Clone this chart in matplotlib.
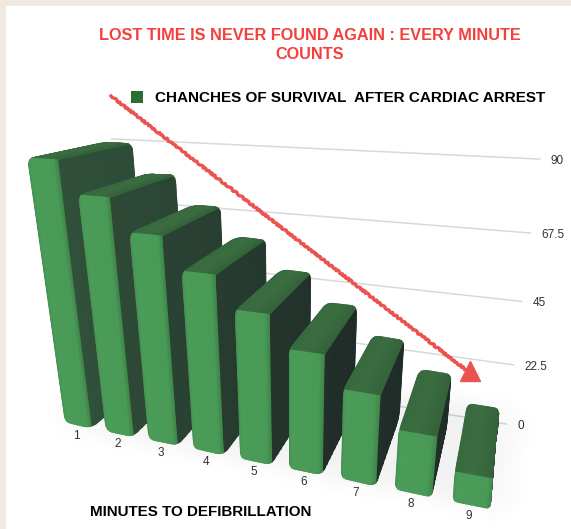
import numpy as np
import matplotlib
matplotlib.use('Agg')
import matplotlib.pyplot as plt
from matplotlib.path import Path
from matplotlib.patches import Patch, Rectangle
from matplotlib.colors import LinearSegmentedColormap, to_rgb

minutes = [1, 2, 3, 4, 5, 6, 7, 8, 9]
survival = [90, 80, 70, 60, 50, 40, 30, 20, 10]
ticks = [0, 22.5, 45, 67.5, 90]
tick_labels = ['0', '22.5', '45', '67.5', '90']
title = 'LOST TIME IS NEVER FOUND AGAIN : EVERY MINUTE\nCOUNTS'
series_name = 'CHANCHES OF SURVIVAL  AFTER CARDIAC ARREST'
xlabel = 'MINUTES TO DEFIBRILLATION'

W = 0.65    # bar width in category units
GAP = (1-W)/2
GRID_Y = 1.2

# camera: x = category position, y = depth, z = value -> pixels
P = np.array([
    [38.53,   84.32, -0.4589,  65.0],
    [-1.0885,  8.8,  -3.188,  423.0],
    [-0.02177, 0.16, -0.00154,  1.0]])

def proj(x, y, z):
    d = P[2,0]*x + P[2,1]*y + P[2,2]*z + P[2,3]
    return ((P[0,0]*x + P[0,1]*y + P[0,2]*z + P[0,3])/d,
            (P[1,0]*x + P[1,1]*y + P[1,2]*z + P[1,3])/d)

def rounded(pts, r):
    verts,codes = [],[]
    n = len(pts)
    for k in range(n):
        v = np.array(pts[k]); a = np.array(pts[k-1]); b = np.array(pts[(k+1)%n])
        ra = min(r/np.linalg.norm(a-v), .45); rb = min(r/np.linalg.norm(b-v), .45)
        verts += [v+(a-v)*ra, v, v+(b-v)*rb]
        codes += [Path.MOVETO if k==0 else Path.LINETO, Path.CURVE3, Path.CURVE3]
    verts.append(verts[0]); codes.append(Path.CLOSEPOLY)
    return Path(verts, codes)

front_cmap = LinearSegmentedColormap.from_list('front', [(0,'#458f51'),(.08,'#4c9c59'),(.88,'#4a9a57'),(1,'#3f8549')])
top_cmap = LinearSegmentedColormap.from_list('top', [(0,'#386a3f'),(.5,'#3c6d41'),(1,'#34633b')])

def side_cmap(i):
    c0 = np.array(to_rgb('#30503a')); c1 = np.array(to_rgb('#212e29'))
    c = c0 + (c1-c0)*min((i-1)/5, 1)
    return LinearSegmentedColormap.from_list('side%d'%i, [c, c*0.95])

def face(ax, x, y, z, cmap, clip):
    xx,yy = proj(x, y, z)
    u = np.linspace(0, 1, x.shape[1])[None,:].repeat(x.shape[0], 0)
    m = ax.pcolormesh(xx, yy, u, cmap=cmap, shading='gouraud', vmin=0, vmax=1, zorder=3)
    m.set_clip_path(clip, ax.transData)

plt.rcParams['font.family'] = ['Liberation Sans', 'DejaVu Sans']
fig = plt.figure(figsize=(5.71,5.29), dpi=100)
ax = fig.add_axes([0,0,1,1])
fig.patch.set_facecolor('#efe9df')
ax.add_patch(Rectangle((5.5,5.5), 570, 530, fc='white', ec='none', zorder=0))

# gridlines on the back wall
for t,lab in zip(ticks,tick_labels):
    xx,yy = proj(np.array([-GAP,len(minutes)-GAP]), np.array([GRID_Y,GRID_Y]), np.array([t,t]))
    ax.plot(xx, yy, color='#d9d9d9', lw=1.1, zorder=1)
    ax.text(xx[1]+11, yy[1]+2, lab, fontsize=8.5, color='#333333', ha='left', va='center', zorder=2)

# soft floor shadow, pushed back behind the bars
for i,v in enumerate(survival):
    fx,fy = proj(np.array([i,i+W,i+W,i]), np.array([.25,.25,1.1,1.1]), np.zeros(4))
    for lw in range(50,2,-6):
        ax.fill(fx, fy, fc='none', ec='black', lw=lw, alpha=.005, joinstyle='round', zorder=2)

# bars
for i,(m,v) in enumerate(zip(minutes,survival)):
    x0 = i; x1 = x0+W
    sil = [proj(x0,0.,v), proj(x0,1.,v), proj(x1,1.,v), proj(x1,1.,0.), proj(x1,0.,0.), proj(x0,0.,0.)]
    clip = rounded(sil, 7)
    uu,tt = np.meshgrid(np.linspace(0,1,15), [0.,1.])
    # side, top, then front
    face(ax, x1+0*uu, uu, v*tt, side_cmap(m), clip)
    face(ax, x0+W*uu, tt, v+0*uu, top_cmap, clip)
    face(ax, x0+W*uu, 0*uu, v*tt, front_cmap, clip)
    bx,by = proj(x0+W/2, 0., 0.)
    ax.text(bx-2, by+10, str(m), fontsize=8.5, color='#333333', ha='center', va='center', zorder=4)

# hand-drawn red arrow
arrow_col = '#ea5350'
ln, = ax.plot([111,466], [96,370], color=arrow_col, lw=2.4, zorder=5)
ln.set_sketch_params(scale=.8, length=6, randomness=3)
mk, = ax.plot([470], [370.5], marker='^', ms=14, color=arrow_col, mec=arrow_col, zorder=5)

ax.text(310, 45, title, fontsize=11.7, fontweight='bold', color='#f43f3c', ha='center', va='center', linespacing=1.35)
ax.text(90, 512.5, xlabel, fontsize=10.9, fontweight='bold', color='black', ha='left', va='center')
ax.legend(handles=[Patch(fc='#2d6e33', ec='none', label=series_name)], loc='center left',
          bbox_to_anchor=(131,98), bbox_transform=ax.transData, frameon=False, borderpad=0, borderaxespad=0,
          handlelength=.8, handleheight=.8, handletextpad=.8, prop={'size':11,'weight':'bold'})

ax.set_xlim(0,571); ax.set_ylim(529,0); ax.axis('off')
fig.savefig('out.png', dpi=100, facecolor=fig.get_facecolor())
